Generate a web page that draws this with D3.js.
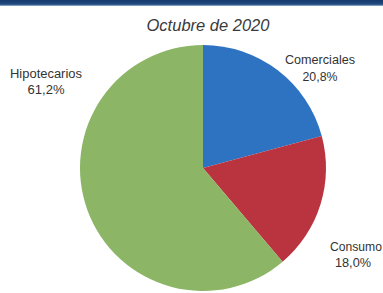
<!DOCTYPE html>
<html><head><meta charset="utf-8">
<script src="https://cdn.jsdelivr.net/npm/d3@7"></script>
<style>html,body{margin:0;padding:0;background:#fff;overflow:hidden}</style>
</head><body>
<svg id="c" width="383" height="293"></svg>
<script>
const categories = ["Comerciales", "Consumo", "Hipotecarios"];
const values = [20.8, 18.0, 61.2];
const valueLabels = ["20,8%", "18,0%", "61,2%"];
const colors = ["#2e72c2", "#b9343f", "#8cb565"];
const title = "Octubre de 2020";

const svg = d3.select("#c");
const defs = svg.append("defs");
const g1 = defs.append("linearGradient").attr("id","band").attr("x1",0).attr("x2",0).attr("y1",0).attr("y2",1);
g1.append("stop").attr("offset","0%").attr("stop-color","#173a6c");
g1.append("stop").attr("offset","70%").attr("stop-color","#1e4a80");
g1.append("stop").attr("offset","100%").attr("stop-color","#9fb6cf");
svg.append("rect").attr("x",0).attr("y",0).attr("width",383).attr("height",6).attr("fill","url(#band)");

svg.append("text").attr("x",208).attr("y",31).attr("text-anchor","middle")
  .attr("font-family","Liberation Sans, Arial, sans-serif").attr("font-style","italic")
  .attr("font-size",16.5).attr("fill","#3a3a3a").text(title);

const cx = 203, cy = 168, r = 123;
const pie = d3.pie().sort(null).value(d => d)(values);
const arc = d3.arc().innerRadius(0).outerRadius(r);
const g = svg.append("g").attr("transform",`translate(${cx},${cy})`);
g.selectAll("path").data(pie).join("path").attr("d",arc).attr("fill",(d,i)=>colors[i]);

// label anchors: [x name, y name, x value, y value, name width, value width]
const labelPos = [[320,64,320,81,70,35],[356,251,353,267,52,36],[46,78,46,94,72,37]];
const lg = svg.append("g").attr("font-family","Liberation Sans Narrow, Arial Narrow, Liberation Sans, sans-serif")
  .attr("font-size",12.5).attr("fill","#333").attr("text-anchor","middle");
categories.forEach((c,i)=>{
  const p = labelPos[i];
  lg.append("text").attr("x",p[0]).attr("y",p[1]).attr("textLength",p[4]).attr("lengthAdjust","spacingAndGlyphs").text(c);
  lg.append("text").attr("x",p[2]).attr("y",p[3]).attr("textLength",p[5]).attr("lengthAdjust","spacingAndGlyphs").text(valueLabels[i]);
});
</script>
</body></html>
